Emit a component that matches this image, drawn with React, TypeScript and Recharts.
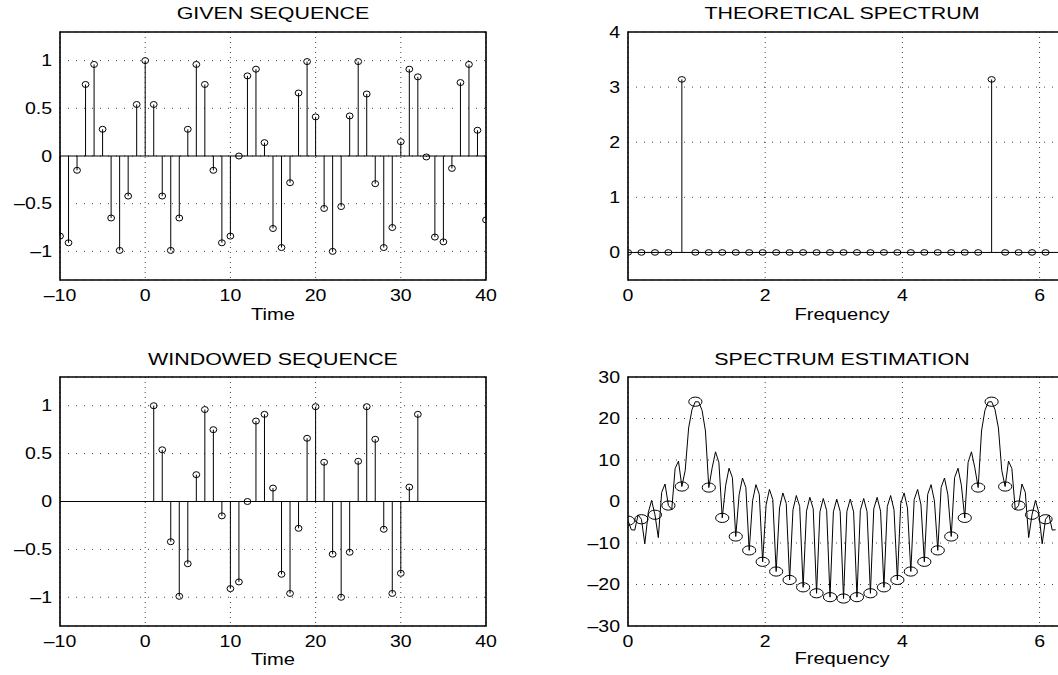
import React from 'react';
import {
  ComposedChart,
  Scatter,
  Line,
  XAxis,
  YAxis,
  CartesianGrid,
  ReferenceLine,
  ReferenceArea,
} from 'recharts';

// given sequence, n = -10..40
const givenTime = [
  -10, -9, -8, -7, -6, -5, -4, -3, -2, -1, 0, 1, 2, 3, 4, 5, 6, 7, 8, 9, 10, 11, 12, 13, 14, 15, 16,
  17, 18, 19, 20, 21, 22, 23, 24, 25, 26, 27, 28, 29, 30, 31, 32, 33, 34, 35, 36, 37, 38, 39, 40,
];
const givenValues = [
  -0.84, -0.91, -0.15, 0.75, 0.96, 0.28, -0.65, -0.99, -0.42, 0.54, 1.0, 0.54, -0.42, -0.99, -0.65,
  0.28, 0.96, 0.75, -0.15, -0.91, -0.84, 0.0, 0.84, 0.91, 0.14, -0.76, -0.96, -0.28, 0.66, 0.99, 0.41,
  -0.55, -1.0, -0.53, 0.42, 0.99, 0.65, -0.29, -0.96, -0.75, 0.15, 0.91, 0.83, -0.01, -0.85, -0.9,
  -0.13, 0.77, 0.96, 0.27, -0.67,
];

// windowed sequence, n = 1..32
const windowTime = [
  1, 2, 3, 4, 5, 6, 7, 8, 9, 10, 11, 12, 13, 14, 15, 16, 17, 18, 19, 20, 21, 22, 23, 24, 25, 26, 27,
  28, 29, 30, 31, 32,
];
const windowValues = [
  1.0, 0.54, -0.42, -0.99, -0.65, 0.28, 0.96, 0.75, -0.15, -0.91, -0.84, 0.0, 0.84, 0.91, 0.14, -0.76,
  -0.96, -0.28, 0.66, 0.99, 0.41, -0.55, -1.0, -0.53, 0.42, 0.99, 0.65, -0.29, -0.96, -0.75, 0.15, 0.91,
];

// 32 frequency bins
const binFreq = [
  0, 0.196, 0.393, 0.589, 0.785, 0.982, 1.178, 1.374, 1.571, 1.767, 1.963, 2.16, 2.356, 2.553, 2.749,
  2.945, 3.142, 3.338, 3.534, 3.731, 3.927, 4.123, 4.32, 4.516, 4.712, 4.909, 5.105, 5.301, 5.498,
  5.694, 5.89, 6.087,
];
const theoryValues = [
  0, 0, 0, 0, 3.14, 0, 0, 0, 0, 0, 0, 0, 0, 0, 0, 0, 0, 0, 0, 0, 0, 0, 0, 0, 0, 0, 0, 3.14, 0, 0, 0, 0,
];
const estimateDb = [
  -4.62, -4.28, -3.19, -0.97, 3.61, 24.05, 3.36, -3.95, -8.43, -11.78, -14.53, -16.87, -18.91, -20.68,
  -22.11, -23.05, -23.38, -23.05, -22.11, -20.68, -18.91, -16.87, -14.53, -11.78, -8.43, -3.95, 3.36,
  24.05, 3.61, -0.97, -3.19, -4.28,
];

// fine frequency grid for the continuous curve
const lineFreq = [
  0, 0.049, 0.098, 0.147, 0.196, 0.245, 0.295, 0.344, 0.393, 0.442, 0.491, 0.54, 0.589, 0.638, 0.687,
  0.736, 0.785, 0.834, 0.884, 0.933, 0.982, 1.031, 1.08, 1.129, 1.178, 1.227, 1.276, 1.325, 1.374,
  1.424, 1.473, 1.522, 1.571, 1.62, 1.669, 1.718, 1.767, 1.816, 1.865, 1.914, 1.963, 2.013, 2.062,
  2.111, 2.16, 2.209, 2.258, 2.307, 2.356, 2.405, 2.454, 2.503, 2.553, 2.602, 2.651, 2.7, 2.749, 2.798,
  2.847, 2.896, 2.945, 2.994, 3.043, 3.093, 3.142, 3.191, 3.24, 3.289, 3.338, 3.387, 3.436, 3.485,
  3.534, 3.583, 3.632, 3.682, 3.731, 3.78, 3.829, 3.878, 3.927, 3.976, 4.025, 4.074, 4.123, 4.172,
  4.222, 4.271, 4.32, 4.369, 4.418, 4.467, 4.516, 4.565, 4.614, 4.663, 4.712, 4.761, 4.811, 4.86, 4.909,
  4.958, 5.007, 5.056, 5.105, 5.154, 5.203, 5.252, 5.301, 5.35, 5.4, 5.449, 5.498, 5.547, 5.596, 5.645,
  5.694, 5.743, 5.792, 5.841, 5.89, 5.94, 5.989, 6.038, 6.087, 6.136, 6.185, 6.234,
];
const lineDb = [
  -4.62, -6.8, -6.89, -3.24, -4.28, -10.2, -2.69, 0.26, -3.19, -8.7, 2.2, 4.22, -0.97, -1.91, 7.96,
  9.74, 3.61, 7.49, 17.72, 22.16, 24.05, 23.99, 21.94, 17.0, 3.36, 8.12, 11.97, 9.42, -3.95, 3.91, 8.02,
  5.75, -8.43, 1.64, 5.66, 3.39, -11.78, 0.18, 4.06, 1.72, -14.53, -0.82, 2.91, 0.47, -16.87, -1.53,
  2.06, -0.48, -18.91, -2.01, 1.44, -1.2, -20.68, -2.32, 1.0, -1.75, -22.11, -2.47, 0.72, -2.14, -23.05,
  -2.5, 0.58, -2.39, -23.38, -2.39, 0.58, -2.5, -23.05, -2.14, 0.72, -2.47, -22.11, -1.75, 1.0, -2.32,
  -20.68, -1.2, 1.44, -2.01, -18.91, -0.48, 2.06, -1.53, -16.87, 0.47, 2.91, -0.82, -14.53, 1.72, 4.06,
  0.18, -11.78, 3.39, 5.66, 1.64, -8.43, 5.75, 8.02, 3.91, -3.95, 9.42, 11.97, 8.12, 3.36, 17.0, 21.94,
  23.99, 24.05, 22.16, 17.72, 7.49, 3.61, 9.74, 7.96, -1.91, -0.97, 4.22, 2.2, -8.7, -3.19, 0.26, -2.69,
  -10.2, -4.28, -3.24, -6.89, -6.8,
];

const timeTicks = [-10, 0, 10, 20, 30, 40];
const seqTicks = [-1, -0.5, 0, 0.5, 1];
const freqTicks = [0, 2, 4, 6];
const theoryTicks = [0, 1, 2, 3, 4];
const dbTicks = [-30, -20, -10, 0, 10, 20, 30];

const FONT = '"Liberation Sans", Arial, Helvetica, sans-serif';
const STRETCH = 1.22;
const TWO_PI = 6.2832;

const fmt = (v: number) => (v < 0 ? '\u2013' + String(-v) : String(v));

const XTick = (props: any) => {
  const { x, y, payload } = props;
  return (
    <text
      transform={`translate(${x},${y + 21}) scale(${STRETCH},1)`}
      textAnchor="middle"
      fontSize={16}
      fontFamily={FONT}
      fill="#000"
    >
      {fmt(payload.value)}
    </text>
  );
};

const YTick = (props: any) => {
  const { x, y, payload } = props;
  return (
    <text
      transform={`translate(${x - 8},${y + 5.7}) scale(${STRETCH},1)`}
      textAnchor="end"
      fontSize={16}
      fontFamily={FONT}
      fill="#000"
    >
      {fmt(payload.value)}
    </text>
  );
};

const ring = (rx: number, ry: number) => (props: any) => (
  <ellipse cx={props.cx} cy={props.cy} rx={rx} ry={ry} fill="none" stroke="#000" strokeWidth={1} />
);

const toPoints = (xs: number[], ys: number[]) => xs.map((x, i) => ({ x, y: ys[i] }));

interface PanelProps {
  width: number;
  height: number;
  top: number;
  right: number;
  yWidth: number;
  xHeight: number;
  xDomain: [number, number];
  yDomain: [number, number];
  xTicks: number[];
  yTicks: number[];
}

// one MATLAB-style axes box
const panel = (p: PanelProps, series: React.ReactNode[]) => (
  <ComposedChart
    width={p.width}
    height={p.height}
    margin={{ top: p.top, right: p.right, bottom: 0, left: 0 }}
  >
    <CartesianGrid vertical={false} stroke="#444" strokeDasharray="1 7" />
    <CartesianGrid horizontal={false} stroke="#444" strokeDasharray="1 4" />
    <XAxis
      type="number"
      dataKey="x"
      domain={p.xDomain}
      ticks={p.xTicks}
      interval={0}
      allowDataOverflow
      height={p.xHeight}
      axisLine={false}
      tickLine={false}
      tickSize={0}
      tickMargin={0}
      tick={<XTick />}
    />
    <YAxis
      type="number"
      domain={p.yDomain}
      ticks={p.yTicks}
      interval={0}
      allowDataOverflow
      width={p.yWidth}
      axisLine={false}
      tickLine={false}
      tickSize={0}
      tickMargin={0}
      tick={<YTick />}
    />
    {series}
    <ReferenceArea
      x1={p.xDomain[0]}
      x2={p.xDomain[1]}
      y1={p.yDomain[0]}
      y2={p.yDomain[1]}
      fill="none"
      stroke="#000"
      strokeWidth={1.6}
      ifOverflow="visible"
    />
  </ComposedChart>
);

const stems = (pts: { x: number; y: number }[], id: string) =>
  pts.map((pt) => (
    <ReferenceLine
      key={`${id}-${pt.x}`}
      segment={[
        { x: pt.x, y: 0 },
        { x: pt.x, y: pt.y },
      ]}
      stroke="#000"
      strokeWidth={1}
      ifOverflow="visible"
    />
  ));

const Titles = () => {
  const t = (x: number, y: number, s: string, size = 17, sx = 1.26) => (
    <text
      key={s + y}
      transform={`translate(${x},${y}) scale(${sx},1)`}
      textAnchor="middle"
      fontSize={size}
      fontFamily={FONT}
      fill="#000"
    >
      {s}
    </text>
  );
  return (
    <svg
      width={1058}
      height={675}
      style={{ position: 'absolute', left: 0, top: 0, pointerEvents: 'none' }}
    >
      {t(273, 18.5, 'GIVEN SEQUENCE')}
      {t(842, 18.5, 'THEORETICAL SPECTRUM')}
      {t(273, 364.5, 'WINDOWED SEQUENCE')}
      {t(842, 364.5, 'SPECTRUM ESTIMATION')}
      {t(273, 320, 'Time', 16)}
      {t(842, 320, 'Frequency', 16)}
      {t(273, 665, 'Time', 16)}
      {t(842, 664, 'Frequency', 16)}
    </svg>
  );
};

export default function App() {
  const given = toPoints(givenTime, givenValues);
  const windowed = toPoints(windowTime, windowValues);
  const theory = toPoints(binFreq, theoryValues);
  const estimate = toPoints(binFreq, estimateDb);
  const curve = toPoints(lineFreq, lineDb);

  const leftTop = { width: 530, height: 330, top: 32, right: 44, yWidth: 60, xHeight: 50 };
  const leftBottom = { width: 530, height: 345, top: 47, right: 44, yWidth: 60, xHeight: 49 };
  const rightTop = { width: 600, height: 330, top: 32, right: 71, yWidth: 98, xHeight: 50 };
  const rightBottom = { width: 600, height: 345, top: 47, right: 71, yWidth: 98, xHeight: 49 };

  return (
    <div
      style={{
        position: 'absolute',
        left: 0,
        top: 0,
        width: 1058,
        height: 675,
        overflow: 'hidden',
        background: '#fff',
      }}
    >
      <div style={{ position: 'absolute', left: 0, top: 0 }}>
        {panel(
          { ...leftTop, xDomain: [-10, 40], yDomain: [-1.3, 1.3], xTicks: timeTicks, yTicks: seqTicks },
          [
            <ReferenceLine key="base" y={0} stroke="#000" strokeWidth={1} />,
            ...stems(given, 'g'),
            <Scatter key="pts" data={given} dataKey="y" shape={ring(3.4, 3)} isAnimationActive={false} />,
          ]
        )}
      </div>
      <div style={{ position: 'absolute', left: 530, top: 0 }}>
        {panel(
          { ...rightTop, xDomain: [0, TWO_PI], yDomain: [-0.5, 4], xTicks: freqTicks, yTicks: theoryTicks },
          [
            <ReferenceLine key="base" y={0} stroke="#000" strokeWidth={1} />,
            ...stems(theory, 't'),
            <Scatter key="pts" data={theory} dataKey="y" shape={ring(3.6, 2.8)} isAnimationActive={false} />,
          ]
        )}
      </div>
      <div style={{ position: 'absolute', left: 0, top: 330 }}>
        {panel(
          { ...leftBottom, xDomain: [-10, 40], yDomain: [-1.3, 1.3], xTicks: timeTicks, yTicks: seqTicks },
          [
            <ReferenceLine key="base" y={0} stroke="#000" strokeWidth={1} />,
            ...stems(windowed, 'w'),
            <Scatter key="pts" data={windowed} dataKey="y" shape={ring(3.4, 3)} isAnimationActive={false} />,
          ]
        )}
      </div>
      <div style={{ position: 'absolute', left: 530, top: 330 }}>
        {panel(
          { ...rightBottom, xDomain: [0, TWO_PI], yDomain: [-30, 30], xTicks: freqTicks, yTicks: dbTicks },
          [
            <Line
              key="curve"
              data={curve}
              dataKey="y"
              type="linear"
              stroke="#000"
              strokeWidth={1}
              dot={false}
              isAnimationActive={false}
            />,
            <Scatter key="pts" data={estimate} dataKey="y" shape={ring(6.6, 4.6)} isAnimationActive={false} />,
          ]
        )}
      </div>
      <Titles />
    </div>
  );
}
